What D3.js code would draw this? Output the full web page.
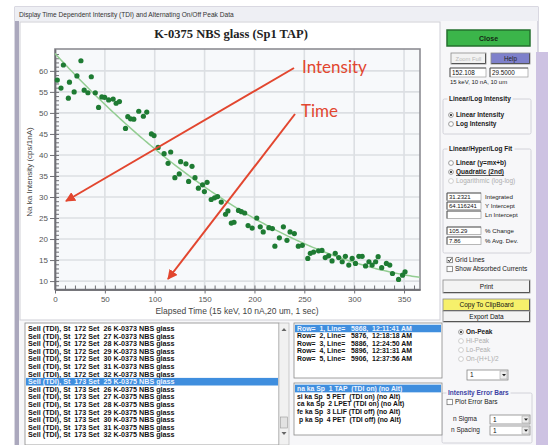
<!DOCTYPE html>
<html>
<head>
<meta charset="utf-8">
<script src="https://cdn.jsdelivr.net/npm/d3@7"></script>
<style>
  html, body { margin: 0; padding: 0; background: #ffffff; }
  svg { display: block; }
</style>
</head>
<body>
<svg id="win" width="548" height="445"></svg>
<script>
// ---- measured data: elapsed time (sec) and Na ka intensity (cps/1nA) ----
const elapsedTime = [
  2.3, 6, 8.4, 13.4, 14.5, 19.2, 22, 26, 29.3, 33, 36.4, 40.4, 43.7, 47, 49.8,
  53.8, 58.3, 61.3, 64.6, 70.7, 73, 75.8, 79, 84, 88.6, 92, 96.7, 99.3, 103.4,
  109.4, 113.4, 116, 120.2, 124.6, 126, 131.3, 134, 137.4, 140.4, 143.8, 148,
  149.8, 152.5, 156.6, 160, 163, 166.7, 171, 173.4, 176.8, 179.5, 184, 186.9,
  190.2, 193.6, 197.7, 202.3, 205.8, 208.8, 214.5, 218, 220.5, 225, 229, 232.6,
  235.7, 240, 244, 248, 253.5, 256, 259.3, 264.3, 267.7, 271, 274.4, 277.8, 281,
  284.5, 288, 291.2, 294.6, 298, 301.3, 304.7, 308, 311.4, 314.8, 318, 321.5,
  324, 327.6, 332.3, 335.7, 338.4, 344.5, 348.5, 351
];
const naIntensity = [
  57.8, 55.9, 61.4, 53.5, 57.3, 55.0, 58.8, 62.4, 55.4, 54.8, 58.6, 54.8, 51.3, 53.8, 53.7,
  53.1, 53.3, 52.3, 52.7, 46.3, 49.1, 48.6, 48.5, 50.4, 49.2, 50.2, 45.0, 44.6, 41.8,
  40.3, 38.0, 40.7, 34.6, 35.5, 38.4, 37.9, 33.7, 37.3, 34.6, 32.1, 32.9,
  31.3, 33.5, 29.4, 29.8, 30.1, 28.8, 25.9, 26.7, 23.8, 24.0, 26.8, 26.5,
  26.2, 23.2, 22.6, 25.0, 22.9, 21.7, 22.7, 22.5, 18.3, 20.3, 22.9, 19.7,
  21.7, 21.3, 18.3, 18.5, 15.4, 16.6, 16.9, 17.2, 17.3, 15.6, 16.0, 14.8, 16.6,
  15.6, 14.6, 15.9, 13.8, 15.4, 14.2, 15.9, 15.9, 13.6, 14.6, 13.8, 14.6,
  15.8, 13.2, 14.2, 13.8, 11.8, 10.4, 11.4, 12.2
];
const xTickValues = [0, 50, 100, 150, 200, 250, 300, 350];
const yTickValues = [10, 15, 20, 25, 30, 35, 40, 45, 50, 55, 60];
const xDomain = [0, 366];
const yDomain = [8, 65.2];

// fit statistics as reported for the quadratic fit
const fitLabels = ["Integrated", "Y Intercept", "Ln Intercept", "% Change", "% Avg. Dev."];
const fitValues = ["31.2321", "64.116241", "", "105.29", "7.86"];
const yIntercept = 64.116241;

const chartTitle = "K-0375 NBS glass (Sp1 TAP)";
const xAxisTitle = "Elapsed Time (15 keV, 10 nA,20 um, 1 sec)";
const yAxisTitle = "Na ka Intensity (cps/1nA)";
const dialogTitle = "Display Time Dependent Intensity (TDI) and Alternating On/Off Peak Data";

const sampleRows = [
  "Sell (TDI), St  172 Set  26 K-0373 NBS glass",
  "Sell (TDI), St  172 Set  27 K-0373 NBS glass",
  "Sell (TDI), St  172 Set  28 K-0373 NBS glass",
  "Sell (TDI), St  172 Set  29 K-0373 NBS glass",
  "Sell (TDI), St  172 Set  30 K-0373 NBS glass",
  "Sell (TDI), St  172 Set  31 K-0373 NBS glass",
  "Sell (TDI), St  172 Set  32 K-0373 NBS glass",
  "Sell (TDI), St  173 Set  25 K-0375 NBS glass",
  "Sell (TDI), St  173 Set  26 K-0375 NBS glass",
  "Sell (TDI), St  173 Set  27 K-0375 NBS glass",
  "Sell (TDI), St  173 Set  28 K-0375 NBS glass",
  "Sell (TDI), St  173 Set  29 K-0375 NBS glass",
  "Sell (TDI), St  173 Set  30 K-0375 NBS glass",
  "Sell (TDI), St  173 Set  31 K-0375 NBS glass",
  "Sell (TDI), St  173 Set  32 K-0375 NBS glass"
];
const lineRows = [
  "Row=  1, Line=   5868,  12:11:41 AM",
  "Row=  2, Line=   5876,  12:18:18 AM",
  "Row=  3, Line=   5886,  12:24:50 AM",
  "Row=  4, Line=   5896,  12:31:31 AM",
  "Row=  5, Line=   5906,  12:37:56 AM"
];
const elementRows = [
  "na ka Sp  1 TAP  (TDI on) (no Alt)",
  "si ka Sp  5 PET  (TDI on) (no Alt)",
  "ca ka Sp  2 LPET (TDI on) (no Alt)",
  "fe ka Sp  3 LLIF (TDI off) (no Alt)",
  " p ka Sp  4 PET  (TDI off) (no Alt)"
];

const svg = d3.select("#win");
const UI = '"Liberation Sans", Arial, sans-serif';

// ---------------- dialog frame ----------------
svg.append("rect").attr("x", 0).attr("y", 0).attr("width", 548).attr("height", 445).attr("fill", "#ffffff");
svg.append("rect").attr("x", 15).attr("y", 7).attr("width", 523).attr("height", 440)
  .attr("fill", "#f7f7f9").attr("stroke", "#b4b2c4");
svg.append("rect").attr("x", 15).attr("y", 7).attr("width", 523).attr("height", 14).attr("fill", "#eeeff4");
svg.append("text").attr("x", 19).attr("y", 17).attr("font-family", UI).attr("font-size", 6.6)
  .attr("fill", "#333").text(dialogTitle);
svg.append("rect").attr("x", 15).attr("y", 21).attr("width", 4).attr("height", 424).attr("fill", "#aba8bd");
svg.append("rect").attr("x", 536).attr("y", 52).attr("width", 12).attr("height", 393).attr("fill", "#cdc2e2");

// chart panel
svg.append("rect").attr("x", 20).attr("y", 22).attr("width", 420).attr("height", 298)
  .attr("fill", "#ffffff").attr("stroke", "#cfcfd6");

// ---------------- chart ----------------
const plot = { left: 55, right: 420, top: 49, bottom: 289.5 };
const x = d3.scaleLinear().domain(xDomain).range([plot.left, plot.right]);
const y = d3.scaleLinear().domain(yDomain).range([plot.bottom, plot.top]);

svg.append("rect").attr("x", plot.left).attr("y", plot.top)
  .attr("width", plot.right - plot.left).attr("height", plot.bottom - plot.top).attr("fill", "#f7f9fb");

// grid
const grid = svg.append("g");
grid.selectAll(".gy").data(yTickValues).join("line")
  .attr("x1", plot.left).attr("x2", plot.right)
  .attr("y1", d => y(d)).attr("y2", d => y(d))
  .attr("stroke", "#dcdfe3").attr("stroke-width", 1.6);
grid.selectAll(".gx").data(xTickValues.filter(d => d > 0)).join("line")
  .attr("x1", d => x(d)).attr("x2", d => x(d))
  .attr("y1", plot.top).attr("y2", plot.bottom)
  .attr("stroke", "#dcdfe3").attr("stroke-width", 1.6);

// frame
svg.append("rect").attr("x", plot.left).attr("y", plot.top)
  .attr("width", plot.right - plot.left).attr("height", plot.bottom - plot.top)
  .attr("fill", "none").attr("stroke", "#8d8d93").attr("stroke-width", 1.6);

// axes
const yAxis = d3.axisLeft(y).tickValues(yTickValues).tickSize(5).tickPadding(2).tickSizeOuter(0);
const gy = svg.append("g").attr("transform", `translate(${plot.left},0)`).call(yAxis);
const yMinor = d3.range(9, 65, 1);
const gyMinor = svg.append("g").attr("transform", `translate(${plot.left},0)`)
  .call(d3.axisLeft(y).tickValues(yMinor).tickSize(-4).tickFormat("").tickSizeOuter(0));

const xAxis = d3.axisBottom(x).tickValues(xTickValues).tickSize(4).tickPadding(3).tickSizeOuter(0);
const gx = svg.append("g").attr("transform", `translate(0,${plot.bottom})`).call(xAxis);
const xMinor = d3.range(0, 361, 10);
const gxMinor = svg.append("g").attr("transform", `translate(0,${plot.bottom})`)
  .call(d3.axisBottom(x).tickValues(xMinor).tickSize(-4).tickFormat("").tickSizeOuter(0));

[gy, gx, gyMinor, gxMinor].forEach(g => {
  g.select(".domain").attr("stroke", "#6f6f75").attr("stroke-width", 1.4);
  g.selectAll(".tick line").attr("stroke", "#6f6f75").attr("stroke-width", 1);
  g.selectAll("text").attr("font-family", UI).attr("font-size", 8).attr("fill", "#555");
});

// quadratic fit through the reported Y intercept (least squares on slope and curvature)
(function drawFit() {
  let s2 = 0, s3 = 0, s4 = 0, r1 = 0, r2 = 0;
  elapsedTime.forEach((t, i) => {
    const r = naIntensity[i] - yIntercept;
    s2 += t * t; s3 += t * t * t; s4 += t * t * t * t;
    r1 += t * r; r2 += t * t * r;
  });
  const det = s2 * s4 - s3 * s3;
  const b = (r1 * s4 - s3 * r2) / det;
  const c = (s2 * r2 - s3 * r1) / det;
  const ts = d3.range(xDomain[0], xDomain[1] + 0.01, 2);
  const line = d3.line().x(t => x(t)).y(t => y(yIntercept + b * t + c * t * t));
  svg.append("path").attr("d", line(ts)).attr("fill", "none")
    .attr("stroke", "#93cd92").attr("stroke-width", 1.5);
})();

// data points
svg.append("g").selectAll("circle").data(elapsedTime).join("circle")
  .attr("cx", d => x(d)).attr("cy", (d, i) => y(naIntensity[i]))
  .attr("r", 2.6).attr("fill", "#1e7b33");

// titles
svg.append("text").attr("x", 231).attr("y", 37.5).attr("text-anchor", "middle")
  .attr("font-family", '"Liberation Serif", "Times New Roman", serif').attr("font-weight", "bold")
  .attr("font-size", 12.5).attr("fill", "#222").text(chartTitle);
svg.append("text").attr("transform", "translate(32,172) rotate(-90)").attr("text-anchor", "middle")
  .attr("font-family", UI).attr("font-size", 8).attr("fill", "#444").text(yAxisTitle);
svg.append("text").attr("x", 237).attr("y", 314).attr("text-anchor", "middle")
  .attr("font-family", UI).attr("font-size", 8.5).attr("fill", "#444").text(xAxisTitle);

// annotation arrows
const red = "#e2462f";
const defs = svg.append("defs");
defs.append("marker").attr("id", "ah").attr("viewBox", "0 0 10 10").attr("refX", 9).attr("refY", 5)
  .attr("markerWidth", 5).attr("markerHeight", 5).attr("orient", "auto")
  .append("path").attr("d", "M0,0 L10,5 L0,10 z").attr("fill", red);
svg.append("line").attr("x1", 294).attr("y1", 68).attr("x2", 66).attr("y2", 201)
  .attr("stroke", red).attr("stroke-width", 2).attr("marker-end", "url(#ah)");
svg.append("line").attr("x1", 295).attr("y1", 114).attr("x2", 168).attr("y2", 279)
  .attr("stroke", red).attr("stroke-width", 2).attr("marker-end", "url(#ah)");
svg.append("text").attr("x", 302).attr("y", 73).attr("font-family", "Lato, 'Open Sans', sans-serif")
  .attr("font-size", 17).attr("fill", red).text("Intensity");
svg.append("text").attr("x", 301).attr("y", 117).attr("font-family", "Lato, 'Open Sans', sans-serif")
  .attr("font-size", 17).attr("fill", red).text("Time");

// ---------------- controls ----------------
function button(x0, y0, w, h, label, fill, color, size, bold) {
  const g = svg.append("g");
  g.append("rect").attr("x", x0).attr("y", y0).attr("width", w).attr("height", h)
    .attr("fill", fill).attr("stroke", "#8c8c8c").attr("stroke-width", 0.8);
  g.append("path").attr("d", `M${x0 + 0.5},${y0 + h - 0.5} H${x0 + w - 0.5} V${y0 + 0.5}`)
    .attr("fill", "none").attr("stroke", "#555").attr("stroke-width", 1);
  g.append("text").attr("x", x0 + w / 2).attr("y", y0 + h / 2 + size * 0.36)
    .attr("text-anchor", "middle").attr("font-family", UI).attr("font-size", size)
    .attr("font-weight", bold ? "bold" : "normal").attr("fill", color).text(label);
}
function field(x0, y0, w, h, val, size) {
  svg.append("rect").attr("x", x0).attr("y", y0).attr("width", w).attr("height", h)
    .attr("fill", "#fff").attr("stroke", "#9a9a9a").attr("stroke-width", 0.7);
  svg.append("path").attr("d", `M${x0},${y0 + h} V${y0} H${x0 + w}`)
    .attr("fill", "none").attr("stroke", "#555").attr("stroke-width", 0.9);
  svg.append("text").attr("x", x0 + 2).attr("y", y0 + h / 2 + 2.2).attr("font-family", UI)
    .attr("font-size", size || 6.3).attr("fill", "#111").text(val);
}
function radio(cx, cy, label, checked, disabled, bold, underline) {
  svg.append("circle").attr("cx", cx).attr("cy", cy).attr("r", 2.4)
    .attr("fill", "#fff").attr("stroke", disabled ? "#bbb" : "#777").attr("stroke-width", 0.7);
  if (checked) svg.append("circle").attr("cx", cx).attr("cy", cy).attr("r", 1.1).attr("fill", "#222");
  svg.append("text").attr("x", cx + 5).attr("y", cy + 2.3).attr("font-family", UI).attr("font-size", 6.5)
    .attr("font-weight", bold ? "bold" : "normal").attr("fill", disabled ? "#aeaeae" : "#1a1a1a")
    .attr("text-decoration", underline ? "underline" : "none").text(label);
}
function checkbox(x0, cy, label, checked) {
  svg.append("rect").attr("x", x0).attr("y", cy - 2.7).attr("width", 5.4).attr("height", 5.4)
    .attr("fill", "#fff").attr("stroke", "#666").attr("stroke-width", 0.7);
  if (checked) svg.append("path").attr("d", `M${x0 + 1},${cy} L${x0 + 2.3},${cy + 1.6} L${x0 + 4.5},${cy - 1.6}`)
    .attr("fill", "none").attr("stroke", "#111").attr("stroke-width", 0.9);
  svg.append("text").attr("x", x0 + 8).attr("y", cy + 2.3).attr("font-family", UI).attr("font-size", 6.5)
    .attr("fill", "#1a1a1a").text(label);
}
function group(x0, y0, w, h, title, color) {
  svg.append("rect").attr("x", x0).attr("y", y0).attr("width", w).attr("height", h)
    .attr("fill", "none").attr("stroke", "#c9c9d2").attr("stroke-width", 0.8).attr("rx", 1.5);
  const t = svg.append("text").attr("x", x0 + 6).attr("y", y0 + 2.3).attr("font-family", UI)
    .attr("font-size", 6.5).attr("font-weight", "bold").attr("fill", color || "#1a1a1a").text(title);
  const bb = t.node().getBBox();
  svg.insert("rect", () => t.node()).attr("x", bb.x - 1.5).attr("y", bb.y).attr("width", bb.width + 3)
    .attr("height", bb.height).attr("fill", "#f7f7f9");
}
function dropdown(x0, y0, w, h, val) {
  svg.append("rect").attr("x", x0).attr("y", y0).attr("width", w).attr("height", h)
    .attr("fill", "#fff").attr("stroke", "#777").attr("stroke-width", 0.7);
  svg.append("rect").attr("x", x0 + w - 8).attr("y", y0 + 1).attr("width", 7).attr("height", h - 2)
    .attr("fill", "#ececec").attr("stroke", "#999").attr("stroke-width", 0.5);
  svg.append("path").attr("d", `M${x0 + w - 6},${y0 + h / 2 - 1} h4 l-2,2.2 z`).attr("fill", "#222");
  svg.append("text").attr("x", x0 + 3).attr("y", y0 + h / 2 + 2.3).attr("font-family", UI)
    .attr("font-size", 6.5).attr("fill", "#111").text(val);
}
function listbox(x0, y0, w, h, rows, first, step, selected, size) {
  svg.append("rect").attr("x", x0).attr("y", y0).attr("width", w).attr("height", h)
    .attr("fill", "#fff").attr("stroke", "#8a8a8a").attr("stroke-width", 0.8);
  rows.forEach((r, i) => {
    const cy = first + i * step;
    if (i === selected) svg.append("rect").attr("x", x0 + 1).attr("y", cy - step / 2)
      .attr("width", w - 2).attr("height", step).attr("fill", "#3f8ede");
    svg.append("text").attr("x", x0 + 3).attr("y", cy + size * 0.36).attr("font-family", UI)
      .attr("font-size", size).attr("font-weight", "bold")
      .attr("fill", i === selected ? "#eef4ff" : "#111").attr("xml:space", "preserve").text(r);
  });
}

// right-hand panel
svg.append("rect").attr("x", 447).attr("y", 30).attr("width", 83).attr("height", 16)
  .attr("fill", "#3bb54a").attr("stroke", "#25702e").attr("stroke-width", 1.5);
svg.append("text").attr("x", 488.5).attr("y", 40.5).attr("text-anchor", "middle").attr("font-family", UI)
  .attr("font-size", 7).attr("font-weight", "bold").attr("fill", "#142814").text("Close");
button(451, 53, 35, 11, "Zoom Full", "#f2f2f2", "#b9b9b9", 5.8, false);
button(491, 53, 39, 11, "Help", "#7e80cb", "#222", 6.3, false);
field(450, 68, 36, 9, "152.108");
field(490, 68, 38, 9, "29.5000");
svg.append("text").attr("x", 450).attr("y", 84).attr("font-family", UI).attr("font-size", 6)
  .attr("fill", "#222").text("15 keV, 10 nA, 10 um");

group(443, 99, 88, 35, "Linear/Log Intensity");
radio(451, 115, "Linear Intensity", true, false, true);
radio(451, 124, "Log Intensity", false, false, true);

group(443, 149, 88, 104, "Linear/Hyper/Log Fit");
radio(451, 163, "Linear (y=mx+b)", false, false, true);
radio(451, 172, "Quadratic (2nd)", true, false, true, true);
radio(451, 181, "Logarithmic (log-log)", false, true, false);
const fieldRowsY = [193, 202, 211, 227, 237];
fitLabels.forEach((lab, i) => {
  field(447, fieldRowsY[i], 34, 7.5, fitValues[i], 6);
  svg.append("text").attr("x", 485).attr("y", fieldRowsY[i] + 5.5).attr("font-family", UI)
    .attr("font-size", 6.2).attr("fill", "#1a1a1a").text(lab);
});

checkbox(447, 260, "Grid Lines", true);
checkbox(447, 269, "Show Absorbed Currents", false);
button(443, 280, 87, 13, "Print", "#f3f3f3", "#111", 6.5, false);
button(443, 299, 87, 12, "Copy To ClipBoard", "#f6f06b", "#111", 6.5, false);
button(443, 311, 87, 11, "Export Data", "#f3f3f3", "#111", 6.5, false);

radio(461, 332, "On-Peak", true, false, true);
radio(461, 341, "Hi-Peak", false, true, false);
radio(461, 350, "Lo-Peak", false, true, false);
radio(461, 359, "On-(H+L)/2", false, true, false);
dropdown(467, 370, 41, 10, "1");

group(442, 393, 90, 50, "Intensity Error Bars", "#3b3fa3");
checkbox(447, 402, "Plot Error Bars", false);
svg.append("text").attr("x", 453).attr("y", 421).attr("font-family", UI).attr("font-size", 6.5)
  .attr("fill", "#1a1a1a").text("n Sigma");
dropdown(490, 415, 40, 9, "1");
svg.append("text").attr("x", 451).attr("y", 432).attr("font-family", UI).attr("font-size", 6.5)
  .attr("fill", "#1a1a1a").text("n Spacing");
dropdown(490, 426, 40, 9, "1");

// lists along the bottom
listbox(25, 323, 254, 122, sampleRows, 328.5, 7.6, 7, 7.2);
svg.append("rect").attr("x", 279).attr("y", 323).attr("width", 10).attr("height", 122)
  .attr("fill", "#f1f1f1").attr("stroke", "#b0b0b0").attr("stroke-width", 0.6);
svg.append("path").attr("d", "M281.5,331 l2.5,-3 l2.5,3 z").attr("fill", "#666");
svg.append("path").attr("d", "M281.5,432 l2.5,3 l2.5,-3 z").attr("fill", "#666");
svg.append("rect").attr("x", 280.5).attr("y", 417).attr("width", 7).attr("height", 11)
  .attr("fill", "#e2e2e2").attr("stroke", "#9a9a9a").attr("stroke-width", 0.6);

listbox(294, 323, 148, 55, lineRows, 328.5, 7.5, 0, 6.9);
listbox(294, 383, 148, 52, elementRows, 388.5, 7.7, 0, 6.8);
</script>
</body>
</html>
